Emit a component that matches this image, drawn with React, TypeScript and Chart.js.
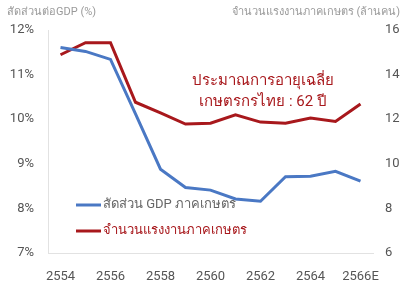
import React, { useEffect, useRef } from "react";
import { Chart, registerables } from "chart.js";

Chart.register(...registerables);

const years = ["2554", "2555", "2556", "2557", "2558", "2559", "2560", "2561", "2562", "2563", "2564", "2565", "2566E"];
const gdpShare = [11.61, 11.52, 11.34, 10.12, 8.88, 8.47, 8.41, 8.21, 8.16, 8.71, 8.72, 8.83, 8.61];
const farmWorkers = [14.89, 15.43, 15.43, 12.76, 12.28, 11.78, 11.82, 12.2, 11.87, 11.82, 12.05, 11.9, 12.68];

const leftTitle = "สัดส่วนต่อGDP (%)";
const rightTitle = "จำนวนแรงงานภาคเกษตร (ล้านคน)";
const noteLines = ["ประมาณการอายุเฉลี่ย", "เกษตรกรไทย : 62 ปี"];
const gdpLabel = "สัดส่วน GDP ภาคเกษตร";
const workerLabel = "จำนวนแรงงานภาคเกษตร";

const BLUE = "#4a78c4";
const RED = "#a8181c";
const FONT = "Roboto, 'Noto Sans', 'DejaVu Sans', sans-serif";

const overlay = {
  id: "overlay",
  afterDraw(chart: any) {
    const ctx = chart.ctx;
    const area = chart.chartArea;
    ctx.save();
    ctx.textBaseline = "middle";
    ctx.font = `11px ${FONT}`;
    ctx.fillStyle = "#9a9a9a";
    ctx.textAlign = "left";
    ctx.fillText(leftTitle, 7, 12);
    ctx.textAlign = "right";
    ctx.fillText(rightTitle, 400, 12);

    ctx.font = `15px ${FONT}`;
    ctx.fillStyle = RED;
    ctx.textAlign = "center";
    ctx.fillText(noteLines[0], 263, 81);
    ctx.fillText(noteLines[1], 263, 102);

    ctx.font = `13px ${FONT}`;
    ctx.textAlign = "left";
    const items = [
      { label: gdpLabel, color: BLUE, text: "#666", y: 205 },
      { label: workerLabel, color: RED, text: RED, y: 231 },
    ];
    for (const it of items) {
      ctx.strokeStyle = it.color;
      ctx.lineWidth = 3;
      ctx.beginPath();
      ctx.moveTo(area.left + 28, it.y);
      ctx.lineTo(area.left + 53, it.y);
      ctx.stroke();
      ctx.fillStyle = it.text;
      ctx.fillText(it.label, area.left + 55, it.y);
    }
    ctx.restore();
  },
};

export default function App() {
  const ref = useRef<HTMLCanvasElement | null>(null);
  useEffect(() => {
    document.body.style.margin = "0";
    const chart = new Chart(ref.current as HTMLCanvasElement, {
      type: "line",
      data: {
        labels: years,
        datasets: [
          {
            label: gdpLabel,
            data: gdpShare,
            borderColor: BLUE,
            borderWidth: 3,
            pointRadius: 0,
            tension: 0,
            yAxisID: "y",
          },
          {
            label: workerLabel,
            data: farmWorkers,
            borderColor: RED,
            borderWidth: 3,
            pointRadius: 0,
            tension: 0,
            yAxisID: "y1",
          },
        ],
      },
      options: {
        animation: false,
        responsive: false,
        maintainAspectRatio: false,
        layout: { padding: { top: 30, left: 0, right: 0, bottom: 0 } },
        plugins: { legend: { display: false }, tooltip: { enabled: false } },
        scales: {
          x: {
            offset: true,
            grid: { display: false, drawTicks: false },
            border: { display: true, color: "#e2e2e2", width: 1 },
            ticks: {
              autoSkip: false,
              maxRotation: 0,
              padding: 16,
              color: "#555",
              font: { size: 13, family: FONT },
              callback: (_v: any, i: number) => (i % 2 === 0 ? years[i] : ""),
            },
            afterFit: (s: any) => {
              s.height = 31;
            },
          },
          y: {
            position: "left",
            min: 7,
            max: 12,
            grid: { display: false, drawTicks: false },
            border: { display: true, color: "#e2e2e2", width: 1 },
            ticks: {
              stepSize: 1,
              padding: 14,
              color: "#555",
              font: { size: 13, family: FONT },
              callback: (v: any) => `${v}%`,
            },
            afterFit: (s: any) => {
              s.width = 48;
            },
          },
          y1: {
            position: "right",
            min: 6,
            max: 16,
            grid: { display: false, drawTicks: false },
            border: { display: false },
            ticks: {
              stepSize: 2,
              padding: 12,
              color: "#555",
              font: { size: 13, family: FONT },
            },
            afterFit: (s: any) => {
              s.width = 30;
            },
          },
        },
      },
      plugins: [overlay],
    });
    return () => chart.destroy();
  }, []);
  return (
    <div style={{ width: 403, height: 284, background: "#fff" }}>
      <canvas ref={ref} width={403} height={284} style={{ width: 403, height: 284 }} />
    </div>
  );
}
